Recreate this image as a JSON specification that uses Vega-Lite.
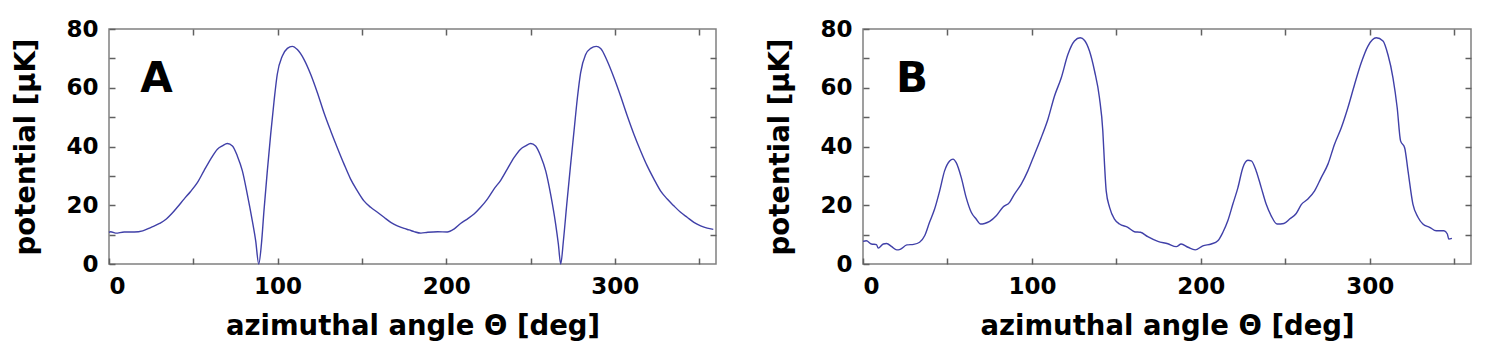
{
  "$schema": "https://vega.github.io/schema/vega-lite/v6.json",
  "padding": {"left": 12, "top": 17, "right": 5, "bottom": 5},
  "spacing": 48,
  "config": {
    "font": "DejaVu Sans",
    "view": {"stroke": "#808080", "strokeWidth": 1.5},
    "axis": {
      "grid": false,
      "domain": false,
      "tickSize": -6,
      "tickColor": "#606060",
      "tickWidth": 1.5,
      "labelFont": "DejaVu Sans",
      "labelFontSize": 23,
      "labelFontWeight": "bold",
      "labelColor": "#000000",
      "titleFont": "DejaVu Sans",
      "titleFontSize": 27.5,
      "titleFontWeight": "bold",
      "titleColor": "#000000"
    }
  },
  "datasets": {
    "A": [
      {"theta": 0, "potential": 10.8}, {"theta": 1, "potential": 11.0}, {"theta": 4, "potential": 10.5},
      {"theta": 9, "potential": 10.9}, {"theta": 15, "potential": 10.9}, {"theta": 20, "potential": 11.3},
      {"theta": 25, "potential": 12.5}, {"theta": 30, "potential": 13.8}, {"theta": 34, "potential": 15.3},
      {"theta": 37, "potential": 17.0}, {"theta": 40.5, "potential": 19.3}, {"theta": 44.5, "potential": 22.1},
      {"theta": 48.4, "potential": 24.7}, {"theta": 52.4, "potential": 27.7}, {"theta": 56.3, "potential": 31.7},
      {"theta": 60.3, "potential": 35.7}, {"theta": 64.3, "potential": 39.1}, {"theta": 67.2, "potential": 40.2},
      {"theta": 70.2, "potential": 41.0}, {"theta": 73.2, "potential": 40.2}, {"theta": 76.1, "potential": 36.8},
      {"theta": 79.1, "potential": 31.7}, {"theta": 82, "potential": 23.8}, {"theta": 85, "potential": 14.7},
      {"theta": 87, "potential": 7.9}, {"theta": 88.8, "potential": 0}, {"theta": 90.4, "potential": 6.8},
      {"theta": 91.9, "potential": 18.1}, {"theta": 93.9, "potential": 31.7}, {"theta": 95.9, "potential": 44.2},
      {"theta": 97.9, "potential": 55.5}, {"theta": 99.8, "potential": 64.6}, {"theta": 102.8, "potential": 70.8},
      {"theta": 105.8, "potential": 73.4}, {"theta": 108.7, "potential": 74.1}, {"theta": 111.7, "potential": 73.0},
      {"theta": 115.7, "potential": 69.6}, {"theta": 119.6, "potential": 64.6}, {"theta": 123.6, "potential": 58.3},
      {"theta": 127.5, "potential": 51.5}, {"theta": 131.5, "potential": 45.3}, {"theta": 135.4, "potential": 39.6},
      {"theta": 139.4, "potential": 34.0}, {"theta": 143.3, "potential": 28.9}, {"theta": 147.3, "potential": 24.9},
      {"theta": 151.2, "potential": 21.5}, {"theta": 155.2, "potential": 19.3}, {"theta": 159.2, "potential": 17.6},
      {"theta": 163.1, "potential": 15.9}, {"theta": 167.1, "potential": 14.2}, {"theta": 171, "potential": 13.0},
      {"theta": 175, "potential": 12.1}, {"theta": 178, "potential": 11.6}, {"theta": 181, "potential": 11.0},
      {"theta": 185, "potential": 10.5}, {"theta": 189, "potential": 10.8}, {"theta": 195, "potential": 11.0},
      {"theta": 200.6, "potential": 10.9}, {"theta": 204.6, "potential": 11.9}, {"theta": 208.5, "potential": 13.8},
      {"theta": 212.5, "potential": 15.3}, {"theta": 216.5, "potential": 17.0}, {"theta": 220.4, "potential": 19.3},
      {"theta": 224.4, "potential": 22.1}, {"theta": 228.3, "potential": 25.5}, {"theta": 232.3, "potential": 28.5},
      {"theta": 236.2, "potential": 32.3}, {"theta": 240.2, "potential": 36.2}, {"theta": 244.1, "potential": 39.1},
      {"theta": 247.1, "potential": 40.2}, {"theta": 250.1, "potential": 41.0}, {"theta": 253, "potential": 40.2},
      {"theta": 256, "potential": 36.8}, {"theta": 259, "potential": 31.7}, {"theta": 261.9, "potential": 23.8},
      {"theta": 264.9, "potential": 13.6}, {"theta": 266.5, "potential": 6.8}, {"theta": 267.9, "potential": 0},
      {"theta": 269.5, "potential": 7.9}, {"theta": 271.5, "potential": 20.4}, {"theta": 273.8, "potential": 34.0},
      {"theta": 275.8, "potential": 45.3}, {"theta": 277.8, "potential": 56.6}, {"theta": 279.7, "potential": 65.1},
      {"theta": 282.7, "potential": 71.3}, {"theta": 285.7, "potential": 73.4}, {"theta": 289, "potential": 74.1},
      {"theta": 291.6, "potential": 73.4}, {"theta": 295.5, "potential": 69.1}, {"theta": 299.5, "potential": 63.4},
      {"theta": 303.4, "potential": 57.2}, {"theta": 307.4, "potential": 50.4}, {"theta": 311.3, "potential": 44.2},
      {"theta": 315.3, "potential": 38.5}, {"theta": 319.2, "potential": 33.4}, {"theta": 323.2, "potential": 28.9},
      {"theta": 327.1, "potential": 24.9}, {"theta": 331.1, "potential": 22.1}, {"theta": 335, "potential": 19.8},
      {"theta": 339, "potential": 17.6}, {"theta": 342.9, "potential": 15.9}, {"theta": 346.9, "potential": 14.2},
      {"theta": 350.9, "potential": 13.0}, {"theta": 354.8, "potential": 12.2}, {"theta": 358.4, "potential": 11.8}
    ],
    "B": [
      {"theta": 0, "potential": 7.7}, {"theta": 2, "potential": 7.9}, {"theta": 5, "potential": 6.8},
      {"theta": 8, "potential": 6.6}, {"theta": 9, "potential": 5.4}, {"theta": 12, "potential": 6.8},
      {"theta": 14, "potential": 7.0}, {"theta": 17, "potential": 5.9}, {"theta": 20, "potential": 4.8},
      {"theta": 22, "potential": 5.0}, {"theta": 26, "potential": 6.5}, {"theta": 30, "potential": 6.7},
      {"theta": 33.5, "potential": 7.4}, {"theta": 36.5, "potential": 9.6}, {"theta": 39.4, "potential": 14.2},
      {"theta": 42.4, "potential": 18.7}, {"theta": 45.4, "potential": 24.9}, {"theta": 48.3, "potential": 31.7},
      {"theta": 51.3, "potential": 35.1}, {"theta": 53.3, "potential": 35.7}, {"theta": 55.2, "potential": 34.5},
      {"theta": 58.2, "potential": 29.4}, {"theta": 61.1, "potential": 22.6}, {"theta": 64.1, "potential": 17.6},
      {"theta": 67, "potential": 15.3}, {"theta": 69.6, "potential": 13.6}, {"theta": 72, "potential": 13.8},
      {"theta": 75, "potential": 14.5}, {"theta": 78.9, "potential": 16.4}, {"theta": 82.8, "potential": 19.3},
      {"theta": 86.8, "potential": 21.0}, {"theta": 89.7, "potential": 23.8}, {"theta": 93.7, "potential": 27.2},
      {"theta": 97.6, "potential": 31.7}, {"theta": 101.6, "potential": 37.4}, {"theta": 105.5, "potential": 43.0},
      {"theta": 109.5, "potential": 49.3}, {"theta": 113.4, "potential": 57.2}, {"theta": 117.4, "potential": 63.4},
      {"theta": 121.3, "potential": 71.3}, {"theta": 125.2, "potential": 75.9}, {"theta": 128.6, "potential": 77.0},
      {"theta": 131.2, "potential": 76.1}, {"theta": 134.1, "potential": 72.5}, {"theta": 137.1, "potential": 65.7},
      {"theta": 140, "potential": 56.6}, {"theta": 142, "potential": 45.3}, {"theta": 143, "potential": 34.0},
      {"theta": 144, "potential": 24.9}, {"theta": 146, "potential": 19.3}, {"theta": 148.9, "potential": 15.3},
      {"theta": 151.9, "potential": 13.6}, {"theta": 156.8, "potential": 12.5}, {"theta": 160.7, "potential": 11.0},
      {"theta": 164.3, "potential": 10.8}, {"theta": 168.6, "potential": 9.3}, {"theta": 174.6, "potential": 7.7},
      {"theta": 180.5, "potential": 6.9}, {"theta": 185.5, "potential": 5.9}, {"theta": 188.4, "potential": 6.8},
      {"theta": 192.4, "potential": 5.7}, {"theta": 196.7, "potential": 4.8}, {"theta": 201.2, "potential": 6.2},
      {"theta": 206.2, "potential": 6.8}, {"theta": 210.1, "potential": 7.9}, {"theta": 213.1, "potential": 10.8},
      {"theta": 216, "potential": 14.7}, {"theta": 219, "potential": 20.4}, {"theta": 222, "potential": 26.0},
      {"theta": 224.9, "potential": 32.8}, {"theta": 227.9, "potential": 35.3}, {"theta": 229.9, "potential": 35.1},
      {"theta": 232.8, "potential": 31.7}, {"theta": 235.8, "potential": 26.0}, {"theta": 238.7, "potential": 20.4},
      {"theta": 241.7, "potential": 16.4}, {"theta": 245.2, "potential": 13.6}, {"theta": 249.2, "potential": 13.8},
      {"theta": 252.6, "potential": 15.3}, {"theta": 256.5, "potential": 17.2}, {"theta": 259.5, "potential": 20.2},
      {"theta": 263.4, "potential": 22.1}, {"theta": 267.4, "potential": 24.9}, {"theta": 271.3, "potential": 29.4},
      {"theta": 275.3, "potential": 34.0}, {"theta": 279.2, "potential": 40.8}, {"theta": 283.2, "potential": 46.4},
      {"theta": 287.1, "potential": 53.2}, {"theta": 291.1, "potential": 61.2}, {"theta": 295, "potential": 68.5},
      {"theta": 299, "potential": 74.2}, {"theta": 303.9, "potential": 77.0}, {"theta": 307.9, "potential": 75.9},
      {"theta": 310.8, "potential": 71.3}, {"theta": 313.8, "potential": 63.4}, {"theta": 316.3, "potential": 53.2},
      {"theta": 318.3, "potential": 41.9}, {"theta": 320.7, "potential": 39.6}, {"theta": 322.7, "potential": 31.7},
      {"theta": 325.6, "potential": 20.4}, {"theta": 328.6, "potential": 15.9}, {"theta": 331.5, "potential": 13.6},
      {"theta": 335.5, "potential": 12.5}, {"theta": 339.4, "potential": 11.3}, {"theta": 344, "potential": 11.3},
      {"theta": 346, "potential": 10.2}, {"theta": 346.8, "potential": 8.5}, {"theta": 348.7, "potential": 8.7}
    ]
  },
  "hconcat": [
    {
      "width": 607,
      "height": 235,
      "layer": [
        {
          "data": {"name": "A"},
          "mark": {"type": "line", "color": "#4040a8", "strokeWidth": 1.4, "interpolate": "monotone"},
          "encoding": {
            "x": {"field": "theta", "type": "quantitative", "scale": {"domain": [0, 360], "nice": false, "zero": false},
              "axis": {"orient": "bottom", "values": [0, 50, 100, 150, 200, 250, 300, 350], "labelExpr": "datum.value % 100 === 0 ? datum.label : ''", "labelPadding": 17, "titlePadding": 14, "title": "azimuthal angle Θ [deg]"}},
            "y": {"field": "potential", "type": "quantitative", "scale": {"domain": [0, 80], "nice": false},
              "axis": {"orient": "left", "values": [0, 10, 20, 30, 40, 50, 60, 70, 80], "labelExpr": "datum.value % 20 === 0 ? datum.label : ''", "labelPadding": 17, "titlePadding": 25, "title": "potential [µK]"}}
          }
        },
        {
          "data": {"values": [{"label": "A"}]},
          "mark": {"type": "text", "fontSize": 42, "fontWeight": "bold", "font": "DejaVu Sans", "align": "left", "baseline": "alphabetic", "color": "#000000"},
          "encoding": {
            "text": {"field": "label"},
            "x": {"datum": 18.5, "type": "quantitative", "axis": {"orient": "top", "values": [50, 100, 150, 200, 250, 300, 350], "labels": false, "title": null}},
            "y": {"datum": 58.5, "type": "quantitative", "axis": {"orient": "right", "values": [10, 20, 30, 40, 50, 60, 70], "labels": false, "title": null}}
          }
        }
      ],
      "resolve": {"axis": {"x": "independent", "y": "independent"}}
    },
    {
      "width": 608,
      "height": 235,
      "layer": [
        {
          "data": {"name": "B"},
          "mark": {"type": "line", "color": "#4040a8", "strokeWidth": 1.4, "interpolate": "monotone"},
          "encoding": {
            "x": {"field": "theta", "type": "quantitative", "scale": {"domain": [0, 360], "nice": false, "zero": false},
              "axis": {"orient": "bottom", "values": [0, 50, 100, 150, 200, 250, 300, 350], "labelExpr": "datum.value % 100 === 0 ? datum.label : ''", "labelPadding": 17, "titlePadding": 14, "title": "azimuthal angle Θ [deg]"}},
            "y": {"field": "potential", "type": "quantitative", "scale": {"domain": [0, 80], "nice": false},
              "axis": {"orient": "left", "values": [0, 10, 20, 30, 40, 50, 60, 70, 80], "labelExpr": "datum.value % 20 === 0 ? datum.label : ''", "labelPadding": 17, "titlePadding": 25, "title": "potential [µK]"}}
          }
        },
        {
          "data": {"values": [{"label": "B"}]},
          "mark": {"type": "text", "fontSize": 42, "fontWeight": "bold", "font": "DejaVu Sans", "align": "left", "baseline": "alphabetic", "color": "#000000"},
          "encoding": {
            "text": {"field": "label"},
            "x": {"datum": 19.5, "type": "quantitative", "axis": {"orient": "top", "values": [50, 100, 150, 200, 250, 300, 350], "labels": false, "title": null}},
            "y": {"datum": 58.5, "type": "quantitative", "axis": {"orient": "right", "values": [10, 20, 30, 40, 50, 60, 70], "labels": false, "title": null}}
          }
        }
      ],
      "resolve": {"axis": {"x": "independent", "y": "independent"}}
    }
  ]
}
